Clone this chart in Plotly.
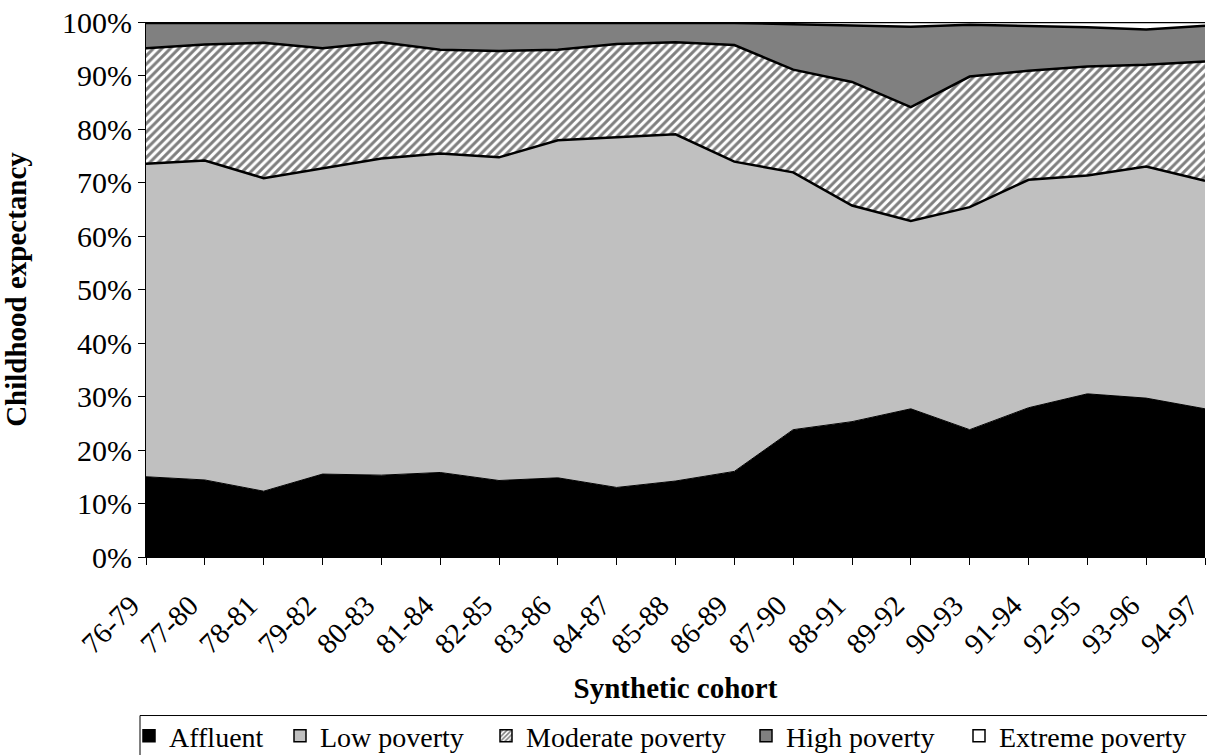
import plotly.graph_objects as go

cohorts = ["76-79", "77-80", "78-81", "79-82", "80-83", "81-84", "82-85", "83-86", "84-87",
           "85-88", "86-89", "87-90", "88-91", "89-92", "90-93", "91-94", "92-95", "93-96", "94-97"]

affluent = [15.0, 14.4, 12.3, 15.5, 15.3, 15.8, 14.3, 14.8, 13.0, 14.2, 16.0, 23.8, 25.3, 27.7, 23.8, 27.9, 30.5, 29.7, 27.7]
low_poverty = [58.5, 59.7, 58.5, 57.2, 59.2, 59.6, 60.4, 63.1, 65.4, 64.8, 57.9, 48.1, 40.4, 35.1, 41.6, 42.6, 40.8, 43.3, 42.6]
moderate_poverty = [21.6, 21.7, 25.3, 22.4, 21.7, 19.4, 19.9, 16.9, 17.5, 17.2, 21.8, 19.2, 23.1, 21.3, 24.4, 20.4, 20.4, 19.0, 22.3]
high_poverty = [4.7, 4.0, 3.7, 4.7, 3.6, 5.0, 5.2, 5.0, 3.9, 3.6, 4.1, 8.5, 10.6, 15.0, 9.7, 8.4, 7.3, 6.6, 6.7]
extreme_poverty = [0.2, 0.2, 0.2, 0.2, 0.2, 0.2, 0.2, 0.2, 0.2, 0.2, 0.2, 0.4, 0.6, 0.9, 0.5, 0.7, 1.0, 1.4, 0.7]

y_ticks = [0, 10, 20, 30, 40, 50, 60, 70, 80, 90, 100]
y_ticklabels = ["0%", "10%", "20%", "30%", "40%", "50%", "60%", "70%", "80%", "90%", "100%"]

FONT = "Liberation Serif, Times New Roman, serif"
xs = list(range(len(cohorts)))

series = [
    ("Affluent", affluent, "black", None),
    ("Low poverty", low_poverty, "#C0C0C0", None),
    ("Moderate poverty", moderate_poverty, "white",
     dict(shape="/", fgcolor="black", bgcolor="white", size=6, solidity=0.5)),
    ("High poverty", high_poverty, "#808080", None),
    ("Extreme poverty", extreme_poverty, "white", None),
]

W, H = 1207, 755
L, T = 146, 22
PW, PH = 1059, 535

fig = go.Figure()
for i, (name, vals, color, pat) in enumerate(series):
    kw = dict(fillpattern=pat) if pat else {}
    fig.add_trace(go.Scatter(x=xs, y=vals, name=name, stackgroup="one", mode="lines",
                             line=dict(color="black", width=1 if i == 0 else 2.5),
                             fillcolor=color, showlegend=False, **kw))

# legend entries (square swatches), one small legend per entry so spacing matches
legend_ids = ["legend", "legend2", "legend3", "legend4", "legend5"]
legend_x_px = [129, 280, 486, 746, 959]  # left edge of each legend entry, px
for (name, vals, color, pat), lid in zip(series, legend_ids):
    marker = dict(color=color, line=dict(color="black", width=1.5))
    if pat:
        marker["pattern"] = dict(shape="/", fgcolor="black", bgcolor="white", size=4, solidity=0.5)
    fig.add_trace(go.Bar(x=[None], y=[None], name=name, marker=marker, showlegend=True,
                         legend=lid))

legend_top = -0.288
legend_layout = {}
for lid, px in zip(legend_ids, legend_x_px):
    legend_layout[lid] = dict(orientation="h", x=(px - L) / PW, xanchor="left", y=legend_top,
                              yanchor="top", borderwidth=0, bgcolor="rgba(0,0,0,0)",
                              font=dict(family=FONT, size=28, color="black"))

fig.update_layout(
    width=W, height=H,
    margin=dict(l=L, r=W - L - PW, t=T, b=H - T - PH, autoexpand=False),
    plot_bgcolor="white", paper_bgcolor="white",
    font=dict(family=FONT, color="black", size=28),
    hovermode=False,
    showlegend=True,
    shapes=[dict(type="rect", xref="paper", yref="paper", x0=(140 - L) / PW, x1=1.05,
                 y0=-0.2963, y1=-0.6, line=dict(color="black", width=1), fillcolor="rgba(0,0,0,0)",
                 layer="below")],
    xaxis=dict(range=[0, 18], tickmode="array", tickvals=xs, ticktext=cohorts, tickangle=-45,
               ticks="outside", ticklen=7, tickcolor="black", showline=True, linecolor="black",
               linewidth=1, showgrid=False, zeroline=False, automargin=False,
               ticklabeloverflow="allow", ticklabelstandoff=12, ticklabelshift=-15,
               tickfont=dict(family=FONT, size=29, color="black"),
               title=dict(text="<b>Synthetic cohort</b>", font=dict(family=FONT, size=29, color="black"),
                          standoff=19)),
    yaxis=dict(range=[0, 100], tickmode="array", tickvals=y_ticks, ticktext=y_ticklabels,
               ticks="outside", ticklen=7, tickcolor="black", showline=True, linecolor="black",
               linewidth=1, showgrid=False, zeroline=False, automargin=False,
               ticklabeloverflow="allow",
               tickfont=dict(family=FONT, size=30, color="black"),
               title=dict(text="<b>Childhood expectancy</b>", font=dict(family=FONT, size=29, color="black"),
                          standoff=31)),
    **legend_layout,
)

fig.write_html("out.html", config={"displayModeBar": False},
               post_script="document.body.style.margin='0';")
